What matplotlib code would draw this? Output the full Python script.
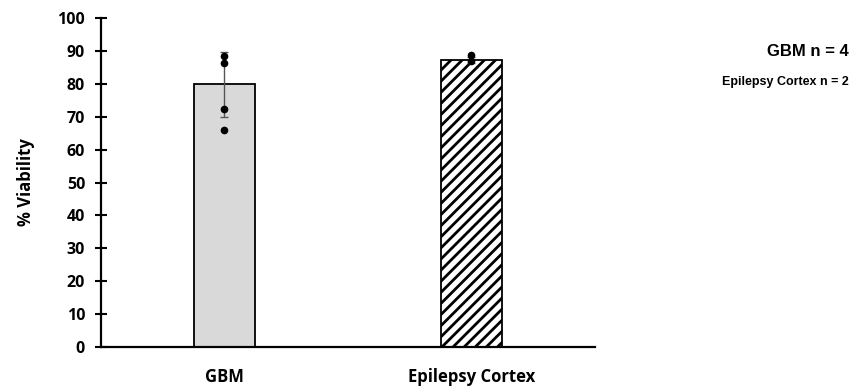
import matplotlib
matplotlib.use("Agg")
import matplotlib.pyplot as plt
import numpy as np

# Viability per tissue group
groups = ["GBM", "Epilepsy Cortex"]
mean_viability = [79.8, 87.2]
sd_viability = [10.0, 0.8]
gbm_samples = [88.4, 86.2, 72.2, 66.1]
epilepsy_samples = [88.6, 86.9]
sample_counts = ["GBM n = 4", "Epilepsy Cortex n = 2"]
y_ticks = list(range(0, 101, 10))

plt.rcParams["hatch.linewidth"] = 2.0

fig = plt.figure(figsize=(8.57, 3.9), dpi=100)
ax = fig.add_axes([0.1179, 0.110, 0.5762, 0.844])

x = np.arange(len(groups))
bars = ax.bar(x, mean_viability, width=0.245, color=["#d9d9d9", "white"],
              edgecolor="black", linewidth=1.3, zorder=2)
bars[1].set_hatch("///")

ax.errorbar(x, mean_viability, yerr=sd_viability, fmt="none", ecolor="#555555",
            elinewidth=1.0, capsize=3, capthick=1.0, zorder=3)

for xi, samples in zip(x, [gbm_samples, epilepsy_samples]):
    ax.plot([xi] * len(samples), samples, "o", color="black", markersize=4.5,
            zorder=4)

ax.set_xlim(-0.5, 1.5)
ax.set_ylim(0, 100)
ax.set_yticks(y_ticks)
ax.set_xticks(x)

ax.set_xticklabels(groups, family="Open Sans", weight="bold", size=12)
ax.set_yticklabels([str(t) for t in y_ticks], family="Open Sans",
                   weight="bold", size=11.5)

ax.tick_params(axis="y", direction="inout", length=8, width=1.5, pad=7.5)
ax.tick_params(axis="x", length=0, pad=15)

for side in ["top", "right"]:
    ax.spines[side].set_visible(False)
for side in ["left", "bottom"]:
    ax.spines[side].set_linewidth(1.6)

ax.set_ylabel("% Viability", family="Open Sans", weight="bold", size=12,
              labelpad=16)

fig.text(0.99, 0.867, sample_counts[0], ha="right", va="center",
         family="Liberation Sans", weight="bold", size=12)
fig.text(0.99, 0.790, sample_counts[1], ha="right", va="center",
         family="Liberation Sans", weight="bold", size=9)

fig.savefig("out.png", dpi=100)
